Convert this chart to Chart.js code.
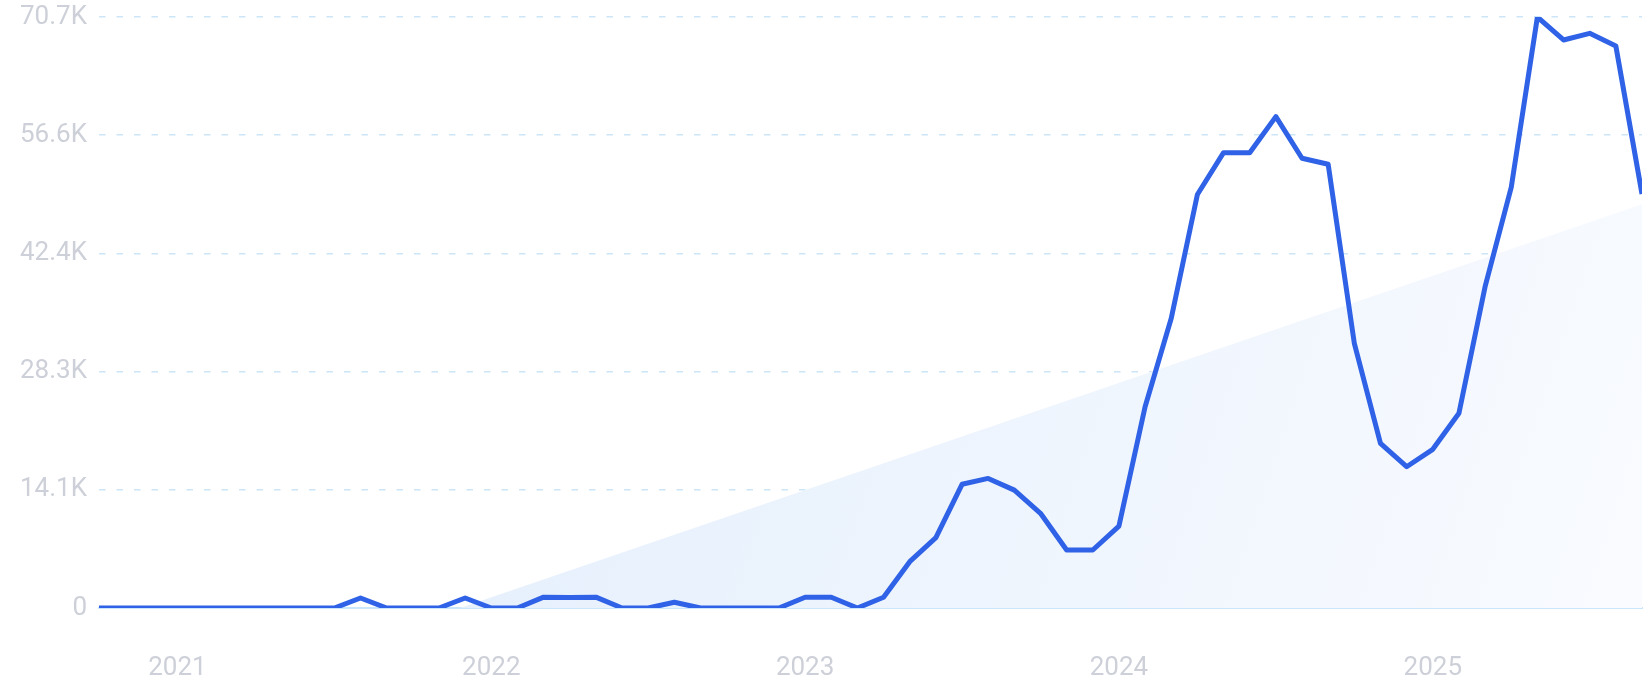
<!DOCTYPE html>
<html>
<head>
<meta charset="utf-8">
<script src="https://cdn.jsdelivr.net/npm/chart.js@4/dist/chart.umd.min.js"></script>
<style>
html,body{margin:0;padding:0;background:#ffffff;}
#wrap{width:1646px;height:700px;position:relative;}
</style>
</head>
<body>
<div id="wrap"><canvas id="c"></canvas></div>
<script>
// Monthly categories (Oct 2020 – Sep 2025)
const months = [
 'Oct 2020','Nov 2020','Dec 2020',
 'Jan 2021','Feb 2021','Mar 2021','Apr 2021','May 2021','Jun 2021','Jul 2021','Aug 2021','Sep 2021','Oct 2021','Nov 2021','Dec 2021',
 'Jan 2022','Feb 2022','Mar 2022','Apr 2022','May 2022','Jun 2022','Jul 2022','Aug 2022','Sep 2022','Oct 2022','Nov 2022','Dec 2022',
 'Jan 2023','Feb 2023','Mar 2023','Apr 2023','May 2023','Jun 2023','Jul 2023','Aug 2023','Sep 2023','Oct 2023','Nov 2023','Dec 2023',
 'Jan 2024','Feb 2024','Mar 2024','Apr 2024','May 2024','Jun 2024','Jul 2024','Aug 2024','Sep 2024','Oct 2024','Nov 2024','Dec 2024',
 'Jan 2025','Feb 2025','Mar 2025','Apr 2025','May 2025','Jun 2025','Jul 2025','Aug 2025','Sep 2025'
];
// Search volume per month
const values = [
 0,0,0,0,0,0,0,0,0,0,
 1200,0,0,0,1200,0,0,1300,1250,1300,
 0,0,680,0,0,0,0,1280,1280,0,
 1280,5540,8410,14800,15500,14100,11330,6940,6940,9800,
 24080,34660,49470,54470,54470,58780,53800,53080,31670,19700,
 16900,18980,23290,38440,50330,70700,67950,68750,67230,49530
];
// Trend line (start where it crosses zero, end at last month)
const trendIdx = [13.8, 59];
const trendValues = [0, 48300];
// Y axis ticks
const yTicks = [0, 14140, 28280, 42420, 56560, 70700];
const yTickLabels = ['0', '14.1K', '28.3K', '42.4K', '56.6K', '70.7K'];

const yearTickIdx = months.map((m, i) => m.startsWith('Jan') ? i : -1).filter(i => i >= 0);

const lineData = values.map((v, i) => ({x: i, y: v}));
const trendData = trendIdx.map((x, i) => ({x: x, y: trendValues[i]}));

const labelFont = {family: 'Roboto', size: 26, weight: 400};
const labelColor = '#cdd0d8';

new Chart(document.getElementById('c'), {
  type: 'line',
  data: {
    datasets: [
      {
        data: lineData,
        borderColor: '#2f62e6',
        borderWidth: 5,
        pointRadius: 0,
        tension: 0,
        borderJoinStyle: 'round',
        fill: false,
        order: 0
      },
      {
        data: trendData,
        borderWidth: 0,
        pointRadius: 0,
        tension: 0,
        fill: 'origin',
        order: 1,
        backgroundColor: (ctx) => {
          const chart = ctx.chart;
          const a = chart.chartArea;
          if (!a) return 'rgba(228,239,252,0.8)';
          const g = chart.ctx.createLinearGradient(a.left + 360, a.top + 200, a.right, a.bottom);
          g.addColorStop(0, '#e4effc');
          g.addColorStop(1, '#f9fbff');
          return g;
        }
      }
    ]
  },
  options: {
    responsive: true,
    maintainAspectRatio: false,
    animation: false,
    events: [],
    layout: {padding: {top: 17, right: 4, left: 0, bottom: 0}},
    plugins: {legend: {display: false}, tooltip: {enabled: false}},
    scales: {
      x: {
        type: 'linear',
        min: 0,
        max: months.length - 1,
        afterBuildTicks: (s) => { s.ticks = yearTickIdx.map(v => ({value: v})); },
        afterFit: (s) => { s.height = 92; },
        grid: {display: false, drawTicks: false},
        border: {display: true, color: '#c9e6fb', width: 2},
        ticks: {
          padding: 45,
          font: labelFont,
          color: labelColor,
          maxRotation: 0,
          autoSkip: false,
          callback: (v) => months[v] ? months[v].slice(4) : ''
        }
      },
      y: {
        min: 0,
        max: 70700,
        afterBuildTicks: (s) => { s.ticks = yTicks.map(v => ({value: v})); },
        afterFit: (s) => { s.width = 99; },
        grid: {
          drawTicks: true,
          tickLength: 12,
          tickColor: 'rgba(0,0,0,0)',
          lineWidth: 1.6,
          color: (c) => (c.tick && c.tick.value === 0) ? 'rgba(0,0,0,0)' : '#cce6f7'
        },
        border: {display: false, dash: [6.5, 11]},
        ticks: {
          padding: 0,
          font: labelFont,
          color: labelColor,
          callback: (v) => { const k = yTicks.indexOf(v); return k >= 0 ? yTickLabels[k] : ''; }
        }
      }
    }
  }
});
</script>
</body>
</html>
